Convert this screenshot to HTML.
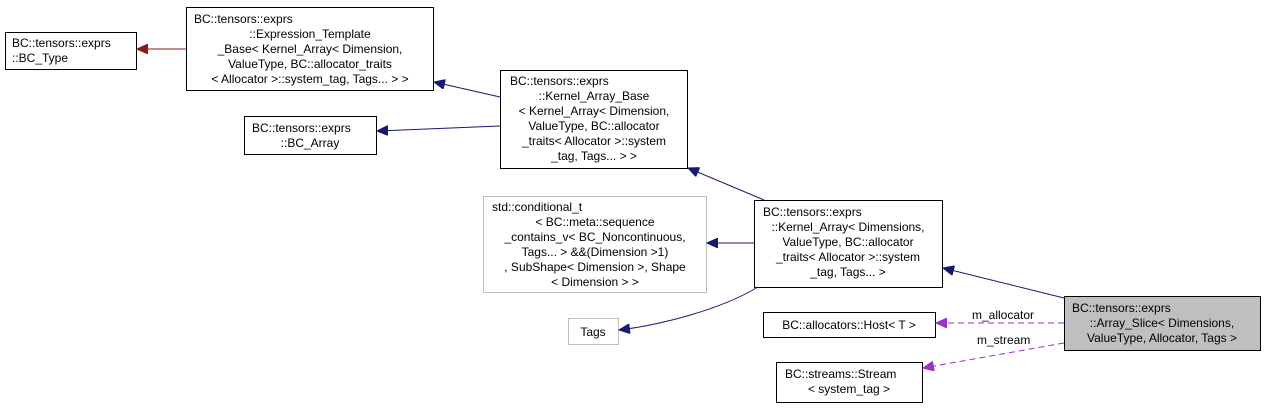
<!DOCTYPE html>
<html><head><meta charset="utf-8"><style>
html,body{margin:0;padding:0;background:#fff;}
svg{display:block;}
text{font-family:"Liberation Sans",Helvetica,sans-serif;font-size:12px;fill:#000;}
</style></head><body>
<svg width="1265" height="409" viewBox="0 0 1265 409" xmlns="http://www.w3.org/2000/svg">
<defs>
<marker id="an" markerWidth="12" markerHeight="10" refX="11" refY="5" orient="auto" markerUnits="userSpaceOnUse"><path d="M0,0 L11,5 L0,10 Z" fill="#191970" stroke="#191970"/></marker>
<marker id="ar" markerWidth="12" markerHeight="10" refX="11" refY="5" orient="auto" markerUnits="userSpaceOnUse"><path d="M0,0 L11,5 L0,10 Z" fill="#8b1a1a" stroke="#8b1a1a"/></marker>
<marker id="ap" markerWidth="12" markerHeight="10" refX="11" refY="5" orient="auto" markerUnits="userSpaceOnUse"><path d="M0,0 L11,5 L0,10 Z" fill="#9a32cd" stroke="#9a32cd"/></marker>
</defs>
<g fill="#fff" stroke="#000">
<rect x="5.5" y="32.5" width="131" height="37"/>
<rect x="186.5" y="7.5" width="247" height="83"/>
<rect x="244.5" y="116.5" width="132" height="38"/>
<rect x="500.5" y="70.5" width="187" height="98"/>
<rect x="483.5" y="196.5" width="223" height="96" stroke="#bfbfbf"/>
<rect x="754.5" y="200.5" width="188" height="87"/>
<rect x="568.5" y="318.5" width="50" height="26" stroke="#bfbfbf"/>
<rect x="763.5" y="312.5" width="172" height="25"/>
<rect x="776.5" y="362.5" width="146" height="40"/>
<rect x="1064.5" y="296.5" width="196" height="54" fill="#bfbfbf"/>
</g>
<g fill="none" stroke-width="1">
<path d="M186,49 L137,49" stroke="#8b1a1a" marker-end="url(#ar)"/>
<path d="M500,97 L434,82" stroke="#191970" marker-end="url(#an)"/>
<path d="M500,126 L377,131" stroke="#191970" marker-end="url(#an)"/>
<path d="M764,200 L688,168" stroke="#191970" marker-end="url(#an)"/>
<path d="M754,243 L707,243" stroke="#191970" marker-end="url(#an)"/>
<path d="M758,287 C720,310 660,325 619,330" stroke="#191970" marker-end="url(#an)"/>
<path d="M1064,298 L943,268" stroke="#191970" marker-end="url(#an)"/>
<path d="M1064,323 L936,323" stroke="#9a32cd" stroke-dasharray="6,4" marker-end="url(#ap)"/>
<path d="M1064,343 L923,368" stroke="#9a32cd" stroke-dasharray="6,4" marker-end="url(#ap)"/>
</g>
<text x="12" y="47">BC::tensors::exprs</text>
<text x="12" y="62">::BC_Type</text>
<text x="194" y="23">BC::tensors::exprs</text>
<text x="310" y="38" text-anchor="middle">::Expression_Template</text>
<text x="310" y="53" text-anchor="middle">_Base&lt; Kernel_Array&lt; Dimension,</text>
<text x="310" y="68" text-anchor="middle"> ValueType, BC::allocator_traits</text>
<text x="310" y="83" text-anchor="middle">&lt; Allocator &gt;::system_tag, Tags... &gt; &gt;</text>
<text x="252" y="132">BC::tensors::exprs</text>
<text x="310" y="147" text-anchor="middle">::BC_Array</text>
<text x="510" y="85">BC::tensors::exprs</text>
<text x="594" y="100" text-anchor="middle">::Kernel_Array_Base</text>
<text x="594" y="115" text-anchor="middle">&lt; Kernel_Array&lt; Dimension,</text>
<text x="594" y="130" text-anchor="middle"> ValueType, BC::allocator</text>
<text x="594" y="145" text-anchor="middle">_traits&lt; Allocator &gt;::system</text>
<text x="594" y="160" text-anchor="middle">_tag, Tags... &gt; &gt;</text>
<text x="492" y="211">std::conditional_t</text>
<text x="595" y="226" text-anchor="middle">&lt; BC::meta::sequence</text>
<text x="595" y="241" text-anchor="middle">_contains_v&lt; BC_Noncontinuous,</text>
<text x="595" y="256" text-anchor="middle"> Tags... &gt; &amp;&amp;(Dimension &gt;1)</text>
<text x="595" y="271" text-anchor="middle">, SubShape&lt; Dimension &gt;, Shape</text>
<text x="595" y="286" text-anchor="middle">&lt; Dimension &gt; &gt;</text>
<text x="763" y="216">BC::tensors::exprs</text>
<text x="848" y="231" text-anchor="middle">::Kernel_Array&lt; Dimensions,</text>
<text x="848" y="246" text-anchor="middle"> ValueType, BC::allocator</text>
<text x="848" y="261" text-anchor="middle">_traits&lt; Allocator &gt;::system</text>
<text x="848" y="276" text-anchor="middle">_tag, Tags... &gt;</text>
<text x="593" y="336" text-anchor="middle">Tags</text>
<text x="849" y="329" text-anchor="middle">BC::allocators::Host&lt; T &gt;</text>
<text x="785" y="378">BC::streams::Stream</text>
<text x="849" y="393" text-anchor="middle">&lt; system_tag &gt;</text>
<text x="1072" y="312">BC::tensors::exprs</text>
<text x="1162" y="327" text-anchor="middle">::Array_Slice&lt; Dimensions,</text>
<text x="1162" y="342" text-anchor="middle"> ValueType, Allocator, Tags &gt;</text>
<text x="972" y="319">m_allocator</text>
<text x="977" y="344">m_stream</text>
</svg>
</body></html>
